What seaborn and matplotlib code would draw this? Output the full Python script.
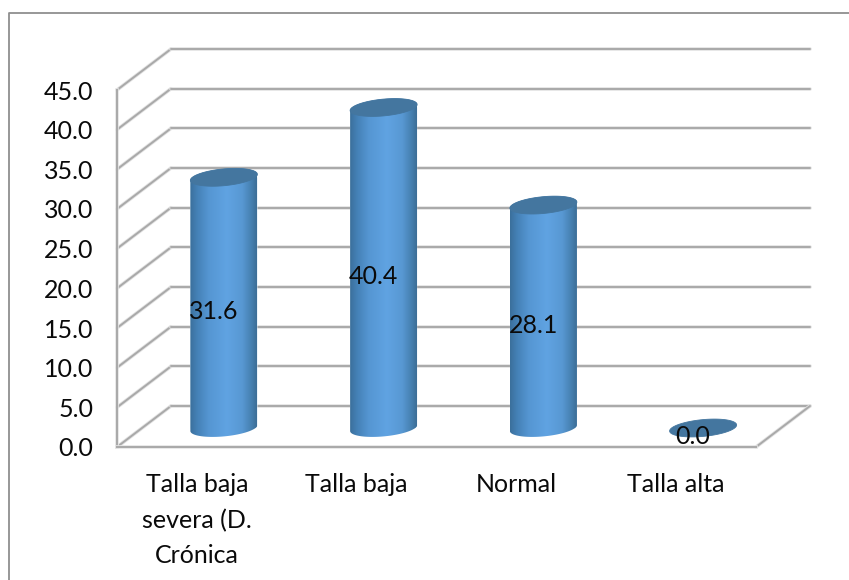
import numpy as np
import pandas as pd
import matplotlib
matplotlib.use("Agg")
import matplotlib.pyplot as plt
import matplotlib.patches as mpatches
import matplotlib.patheffects as pe
from matplotlib.colors import LinearSegmentedColormap
from matplotlib.lines import Line2D
from matplotlib.transforms import Affine2D, IdentityTransform
import seaborn as sns

categories = ["Talla baja\nsevera (D.\nCrónica", "Talla baja", "Normal", "Talla alta"]
values = [31.6, 40.4, 28.1, 0.0]
y_ticks = [0, 5, 10, 15, 20, 25, 30, 35, 40, 45]

FIG_W, FIG_H = 849, 580
AX_L, AX_R, AX_TOP, AX_BOT = 117, 756, 90, 447   # plot box, pixels from top-left
DEPTH_X, DEPTH_Y = 54, 41                        # floor depth of the pseudo-3D box
BAR_DX, BAR_DY = 27, 19                          # cylinders stand mid-way on the floor
RX, RY, SHEAR = 33.5, 8.4, 3.0                   # cylinder cap radii and tilt
GREY = "#a9a9a9"
TEXT = "#0a0a0a"
FONT = "Lato"
FS = 18

sns.set_theme(style="white")
plt.rcParams["font.family"] = [FONT, "DejaVu Sans"]

fig = plt.figure(figsize=(FIG_W / 100, FIG_H / 100), dpi=100, facecolor="white")
ax = fig.add_axes([AX_L / FIG_W, 1 - AX_BOT / FIG_H,
                   (AX_R - AX_L) / FIG_W, (AX_BOT - AX_TOP) / FIG_H], zorder=2)

df = pd.DataFrame({"categoria": categories, "valor": values})
sns.barplot(data=df, x="categoria", y="valor", ax=ax, width=2 * RX / 159.75,
            color="#5b9bd5", saturation=1, zorder=3)
ax.set_xlim(-0.5, 3.5)
ax.set_ylim(0, 45)
ax.set_xlabel("")
ax.set_ylabel("")
ax.patch.set_alpha(0)

ax.set_yticks(y_ticks)
ax.set_yticklabels([f"{t:.1f}" for t in y_ticks], fontsize=FS, color=TEXT, family=FONT,
                   va="center_baseline")
ax.set_xticks([-0.5, 0.5, 1.5, 2.5, 3.5], minor=True)
ax.set_xticks(range(len(categories)))
ax.set_xticklabels(categories, fontsize=FS, color=TEXT, family=FONT, linespacing=1.63)
ax.tick_params(axis="x", which="major", length=0, pad=19)
ax.tick_params(axis="x", which="minor", length=7, width=1, color=GREY, direction="out")
ax.tick_params(axis="y", length=7, width=1, color=GREY, direction="out", pad=10)
for side in ("top", "right"):
    ax.spines[side].set_visible(False)
soft_spine = [pe.Stroke(linewidth=2.6, foreground="#e4e4e4"), pe.Normal()]
for side in ("left", "bottom"):
    ax.spines[side].set_color(GREY)
    ax.spines[side].set_linewidth(1.4)
    ax.spines[side].set_path_effects(soft_spine)

fig.canvas.draw()
display = IdentityTransform()
soft = [pe.Stroke(linewidth=2.6, foreground="#e2e2e2"), pe.Normal()]


def wall_line(xs, ys):
    """Add a soft grey line given display pixel coordinates."""
    fig.add_artist(Line2D(xs, ys, color=GREY, lw=1.4, transform=display, zorder=1,
                          solid_capstyle="round", path_effects=soft))


# Side wall diagonals and back-wall gridlines for every y tick
for tick in y_ticks:
    px, py = ax.transData.transform((-0.5, tick))
    ex, _ = ax.transData.transform((3.5, tick))
    wall_line([px, px + DEPTH_X], [py, py + DEPTH_Y])
    wall_line([px + DEPTH_X, ex + DEPTH_X], [py + DEPTH_Y, py + DEPTH_Y])
# Right floor edge
ex, ey = ax.transData.transform((3.5, 0))
wall_line([ex, ex + DEPTH_X], [ey, ey + DEPTH_Y])

# Chart frame: only the top and left edges fall inside the canvas
fig.add_artist(Line2D([8.5, 8.5, FIG_W], [0, FIG_H - 12.5, FIG_H - 12.5],
                      color="#8f8f8f", lw=1.3, transform=display, zorder=0))

# Horizontal shading across the cylinder body
shade = LinearSegmentedColormap.from_list(
    "cyl", [(0.0, "#3b6f9b"), (0.10, "#4480b5"), (0.28, "#5596d2"), (0.55, "#60a3e2"),
            (0.78, "#5898d3"), (0.92, "#4680b0"), (1.0, "#3d6e96")])
gradient = np.linspace(0, 1, 256).reshape(1, -1)
t = np.linspace(0, 2 * np.pi, 181)


def cap(cx, cy, arc):
    """Points of a sheared ellipse around (cx, cy) in display pixels."""
    return np.column_stack([cx + RX * np.cos(arc),
                            cy + RY * np.sin(arc) + SHEAR * np.cos(arc)])


for bar, val in zip(ax.patches, values):
    mid = bar.get_x() + bar.get_width() / 2
    bx, by = ax.transData.transform((mid, 0))
    tx, ty = ax.transData.transform((mid, val))
    bx += BAR_DX; tx += BAR_DX
    by += BAR_DY; ty += BAR_DY

    # Silhouette: lower half of the base cap joined to the top edge
    lower = cap(bx, by, np.linspace(np.pi, 2 * np.pi, 91))
    upper = cap(tx, ty, np.linspace(0, np.pi, 91))
    body = mpatches.Polygon(np.vstack([lower, upper]), closed=True, transform=display)
    bar.set_transform(ax.transData + Affine2D().translate(BAR_DX, BAR_DY))
    bar.set_clip_path(body)
    if val > 0:
        image = ax.imshow(gradient, cmap=shade, aspect="auto", zorder=3.1,
                          extent=(bx - RX, bx + RX, by - RY - SHEAR, ty + RY + SHEAR),
                          transform=display, interpolation="bilinear")
        image.set_clip_path(body)
    top = mpatches.Polygon(cap(tx, ty, t), closed=True, transform=display,
                           facecolor="#44769f", edgecolor="#44769f", lw=0.6, zorder=3.2)
    ax.add_patch(top)
    top.set_clip_on(False)

    # Value label sits on the front plane, up from the middle of the bar
    ax.annotate(f"{val:.1f}", xy=(mid, val / 2), xytext=(17 * 0.72, 10 * 0.72),
                textcoords="offset points", ha="center", va="center",
                fontsize=FS, color=TEXT, family=FONT, zorder=5, annotation_clip=False)

ax.set_xlim(-0.5, 3.5)
ax.set_ylim(0, 45)
fig.savefig("out.png", dpi=100)
